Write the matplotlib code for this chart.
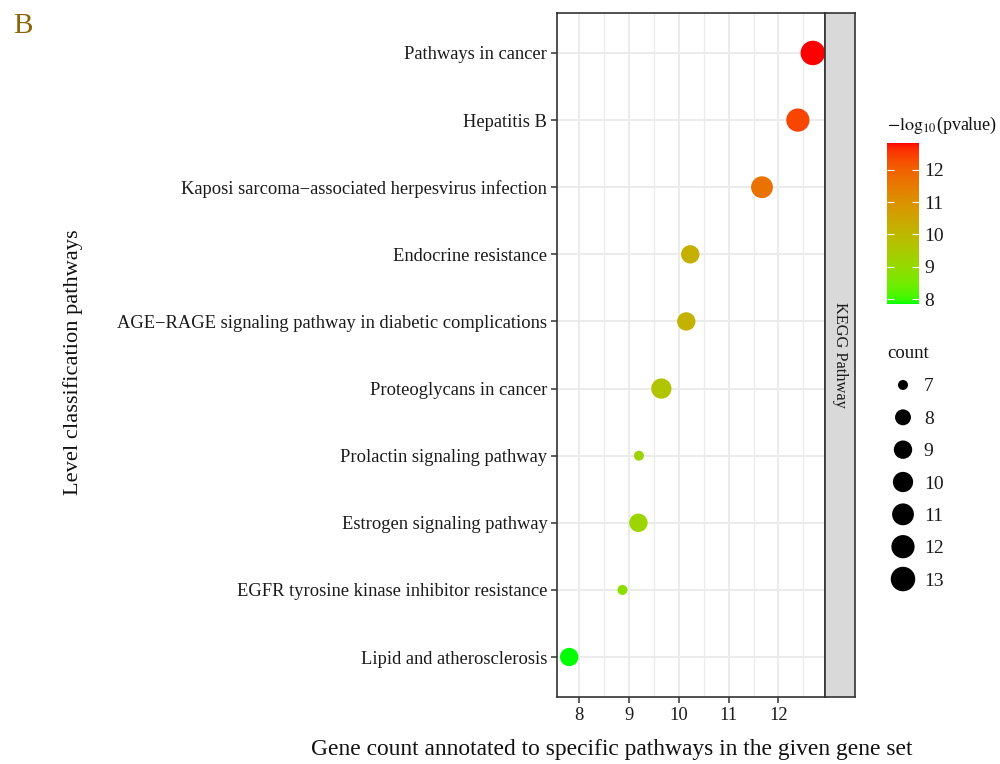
import numpy as np
import matplotlib
matplotlib.use("Agg")
import matplotlib.pyplot as plt
from matplotlib.colors import ListedColormap, Normalize
import matplotlib.cm as cm

plt.rcParams['font.family'] = ['Liberation Serif', 'DejaVu Serif']
plt.rcParams['mathtext.fontset'] = 'stix'

# ---------------- data ----------------
pathways = [
    "Pathways in cancer",
    "Hepatitis B",
    "Kaposi sarcoma\u2212associated herpesvirus infection",
    "Endocrine resistance",
    "AGE\u2212RAGE signaling pathway in diabetic complications",
    "Proteoglycans in cancer",
    "Prolactin signaling pathway",
    "Estrogen signaling pathway",
    "EGFR tyrosine kinase inhibitor resistance",
    "Lipid and atherosclerosis",
]
x_values = [12.69, 12.39, 11.67, 10.23, 10.15, 9.65, 9.20, 9.19, 8.87, 7.80]
neglog10p = [12.83, 12.40, 11.68, 10.22, 10.15, 9.65, 9.20, 9.19, 8.87, 7.85]
counts = [13, 12, 11, 9, 9, 10, 7, 9, 7, 9]
legend_counts = [7, 8, 9, 10, 11, 12, 13]
cbar_ticks = [8, 9, 10, 11, 12]
x_ticks = [8, 9, 10, 11, 12]

# ---------------- helpers ----------------
def srgb_to_lab(rgb):
    rgb = np.asarray(rgb, float)
    lin = np.where(rgb <= 0.04045, rgb / 12.92, ((rgb + 0.055) / 1.055) ** 2.4)
    M = np.array([[0.4124, 0.3576, 0.1805],
                  [0.2126, 0.7152, 0.0722],
                  [0.0193, 0.1192, 0.9505]])
    xyz = M @ lin
    wp = np.array([0.95047, 1.0, 1.08883])
    t = xyz / wp
    f = np.where(t > (6 / 29) ** 3, np.cbrt(t), t / (3 * (6 / 29) ** 2) + 4 / 29)
    return np.array([116 * f[1] - 16, 500 * (f[0] - f[1]), 200 * (f[1] - f[2])])

def lab_to_srgb(lab):
    L, a, b = lab
    fy = (L + 16) / 116
    fx = fy + a / 500
    fz = fy - b / 200
    f = np.array([fx, fy, fz])
    t = np.where(f > 6 / 29, f ** 3, 3 * (6 / 29) ** 2 * (f - 4 / 29))
    xyz = t * np.array([0.95047, 1.0, 1.08883])
    Minv = np.array([[3.2406, -1.5372, -0.4986],
                     [-0.9689, 1.8758, 0.0415],
                     [0.0557, -0.2040, 1.0570]])
    lin = Minv @ xyz
    lin = np.clip(lin, 0, 1)
    rgb = np.where(lin <= 0.0031308, 12.92 * lin, 1.055 * lin ** (1 / 2.4) - 0.055)
    return np.clip(rgb, 0, 1)

lab_lo = srgb_to_lab([0, 1, 0])
lab_hi = srgb_to_lab([1, 0, 0])
cols = [lab_to_srgb(lab_lo + (lab_hi - lab_lo) * t) for t in np.linspace(0, 1, 256)]
cmap = ListedColormap(cols)

def diam_px(c):
    c = np.asarray(c, float)
    cmin, cmax = min(legend_counts), max(legend_counts)
    return 10.0 + (24.5 - 10.0) * np.sqrt((c - cmin) / (cmax - cmin))

def marker_s(c):
    return (diam_px(c) * 72.0 / 100.0) ** 2

# ---------------- figure ----------------
W, H = 1000, 764
fig = plt.figure(figsize=(W / 100, H / 100), dpi=100)

def box(x0, y0, x1, y1):
    return [x0 / W, 1 - y1 / H, (x1 - x0) / W, (y1 - y0) / H]

ax = fig.add_axes(box(557, 12.7, 825, 697.3))
norm = Normalize(vmin=min(neglog10p), vmax=max(neglog10p))
ypos = np.arange(len(pathways))

# grid
for g in x_ticks:
    ax.axvline(g, color='#EBEBEB', lw=1.4, zorder=0)
for g in np.arange(7.5, 13.0, 1.0):
    ax.axvline(g, color='#EBEBEB', lw=0.9, zorder=0)
for yy in ypos:
    ax.axhline(yy, color='#EBEBEB', lw=1.4, zorder=0)

ax.scatter(x_values, ypos, s=marker_s(counts), c=neglog10p, cmap=cmap, norm=norm,
           edgecolors='none', zorder=3)

xr = max(x_values) - min(x_values)
ax.set_xlim(min(x_values) - 0.05 * xr, max(x_values) + 0.05 * xr)
ax.set_ylim(len(pathways) - 0.4, -0.6)
ax.set_xticks(x_ticks)
ax.set_xticklabels([str(t) for t in x_ticks])
ax.set_yticks(ypos)
ax.set_yticklabels(pathways)
ax.tick_params(axis='both', length=4, width=1.1, color='#333333', labelsize=13.3,
               labelcolor='#1a1a1a', pad=3)
for sp in ax.spines.values():
    sp.set_color('#333333')
    sp.set_linewidth(1.2)

# facet strip
sax = fig.add_axes(box(825, 12.7, 855.5, 697.3))
sax.set_facecolor('#D9D9D9')
sax.set_xticks([])
sax.set_yticks([])
for sp in sax.spines.values():
    sp.set_color('#333333')
    sp.set_linewidth(1.2)
sax.text(0.5, 0.5, "KEGG Pathway", rotation=-90, ha='center', va='center',
         fontsize=11.8, color='#1a1a1a', transform=sax.transAxes)

# axis titles
fig.text(612 / W, 1 - 750 / H, "Gene count annotated to specific pathways in the given gene set",
         ha='center', va='center', fontsize=16.9, color='#111111')
fig.text(73 / W, 1 - 362 / H, "Level classification pathways", rotation=90,
         ha='center', va='center', fontsize=16.1, color='#111111')
fig.text(13 / W, 1 - 26 / H, "B", ha='left', va='center', fontsize=21, color='#8B6508')

# colorbar
cax = fig.add_axes(box(887, 143, 919, 304))
cb = fig.colorbar(cm.ScalarMappable(norm=norm, cmap=cmap), cax=cax, ticks=cbar_ticks)
cb.outline.set_visible(False)
cax.yaxis.set_ticks_position('both')
cax.tick_params(axis='y', direction='in', color='white', length=5, width=0.8,
                labelleft=False, labelright=True, labelsize=14, labelcolor='#1a1a1a', pad=4)
fig.text(887 / W, 1 - 125 / H, r"$-\mathrm{log}_{10}$(pvalue)", ha='left', va='center',
         fontsize=13, color='#111111')

# size legend
lax = fig.add_axes(box(887, 368.8, 919, 595.2))
lax.scatter(np.zeros(len(legend_counts)), legend_counts, s=marker_s(legend_counts),
            c='black', edgecolors='none')
lax.set_xlim(-1, 1)
lax.set_ylim(max(legend_counts) + 0.5, min(legend_counts) - 0.5)
lax.set_yticks(legend_counts)
lax.set_yticklabels([str(c) for c in legend_counts])
lax.yaxis.tick_right()
lax.set_xticks([])
lax.tick_params(axis='y', length=0, labelsize=14, labelcolor='#1a1a1a', pad=3.5)
for sp in lax.spines.values():
    sp.set_visible(False)
lax.patch.set_alpha(0)
fig.text(887 / W, 1 - 353 / H, "count", ha='left', va='center', fontsize=13.5, color='#111111')

fig.savefig("out.png", dpi=100)
